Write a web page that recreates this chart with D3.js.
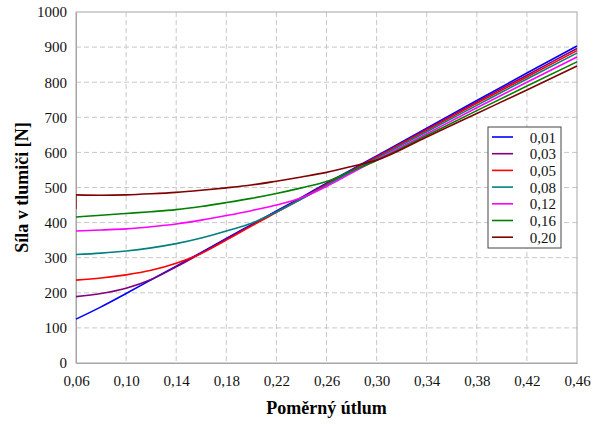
<!DOCTYPE html>
<html lang="cs">
<head>
<meta charset="UTF-8">
<script src="https://cdn.jsdelivr.net/npm/d3@7"></script>
<style>
body { margin:0; background:#fff; }
.grid line { stroke:#c8c8c8; stroke-dasharray:5,3; }
</style>
<title>Síla v tlumiči</title>
</head>
<body>
<script>
// x values (poměrný útlum)
var xs = [0.06, 0.08, 0.10, 0.12, 0.14, 0.16, 0.18, 0.20, 0.22, 0.24, 0.26, 0.28, 0.30, 0.34, 0.38, 0.42, 0.46];

var names = ["0,01", "0,03", "0,05", "0,08", "0,12", "0,16", "0,20"];
var colors = ["#0000ff", "#800080", "#ff0000", "#008080", "#ff00ff", "#008000", "#800000"];

var s001 = [125, 160, 198, 237, 276, 315, 355, 394, 433, 472, 512, 551, 590, 669, 748, 826, 903];
var s003 = [189, 198, 213, 238, 274, 313, 353, 392, 431, 470, 510, 549, 588, 666, 744, 820, 896];
var s005 = [236, 242, 251, 264, 284, 312, 350, 390, 429, 468, 508, 547, 586, 663, 740, 815, 890];
var s008 = [309, 313, 319, 328, 340, 356, 376, 398, 430, 467, 506, 545, 583, 659, 734, 809, 883];
var s012 = [376, 379, 382, 388, 396, 407, 420, 434, 450, 471, 503, 541, 579, 653, 727, 800, 872];
var s016 = [416, 421, 426, 431, 437, 446, 457, 469, 483, 499, 517, 547, 577, 648, 719, 789, 858];
var s020 = [479, 478, 479, 482, 486, 492, 499, 507, 518, 530, 543, 560, 578, 644, 711, 778, 846];
var series = [s001, s003, s005, s008, s012, s016, s020];

var xTicks = [0.06, 0.10, 0.14, 0.18, 0.22, 0.26, 0.30, 0.34, 0.38, 0.42, 0.46];
var yTicks = [0, 100, 200, 300, 400, 500, 600, 700, 800, 900, 1000];

var FONT = "Liberation Serif";

var W = 598, H = 424;
var margin = {top: 12, right: 21, bottom: 61, left: 76},
    width = W - margin.left - margin.right,
    height = H - margin.top - margin.bottom;

var svg = d3.select("body").append("svg")
    .attr("width", W)
    .attr("height", H)
    .style("font-family", FONT);

var g = svg.append("g")
    .attr("transform", "translate(" + margin.left + "," + margin.top + ")");

var x = d3.scaleLinear().domain([0.06, 0.46]).range([0, width]);
var y = d3.scaleLinear().domain([0, 1000]).range([height, 0]);

// grid
var grid = g.append("g").attr("class", "grid");
grid.selectAll(".gx").data(xTicks.slice(1, -1)).enter().append("line")
    .attr("x1", function(d) { return x(d); })
    .attr("x2", function(d) { return x(d); })
    .attr("y1", 0).attr("y2", height);
grid.selectAll(".gy").data(yTicks.slice(1, -1)).enter().append("line")
    .attr("x1", 0).attr("x2", width)
    .attr("y1", function(d) { return y(d); })
    .attr("y2", function(d) { return y(d); });

// frame
g.append("rect")
    .attr("width", width).attr("height", height)
    .attr("fill", "none").attr("stroke", "#a6a6a6");

// axes
var fmt = function(d) { return d3.format(".2f")(d).replace(".", ","); };
var xAxis = g.append("g")
    .attr("transform", "translate(0," + height + ")")
    .call(d3.axisBottom(x).tickValues(xTicks).tickFormat(fmt).tickSize(0).tickPadding(12));
var yAxis = g.append("g")
    .call(d3.axisLeft(y).tickValues(yTicks).tickFormat(d3.format("d")).tickSize(0).tickPadding(9));
[xAxis, yAxis].forEach(function(a) {
    a.attr("font-family", FONT).attr("font-size", 15);
    a.select(".domain").attr("stroke", "#a6a6a6");
    a.selectAll("text")
        .style("font-family", FONT)
        .style("font-size", "15px")
        .attr("fill", "#111");
});

// lines
var line = d3.line()
    .x(function(d, i) { return x(xs[i]); })
    .y(function(d) { return y(d); })
    .curve(d3.curveMonotoneX);

g.selectAll(".series").data(series).enter().append("path")
    .attr("class", "series")
    .attr("d", line)
    .attr("fill", "none")
    .attr("stroke", function(d, i) { return colors[i]; })
    .attr("stroke-width", 1.6);

// brown starts with a short drop at the left edge
g.append("line")
    .attr("x1", x(xs[0]) + 0.5).attr("x2", x(xs[0]) + 0.5)
    .attr("y1", y(s020[0])).attr("y2", y(s020[0] - 40))
    .attr("stroke", colors[6]).attr("stroke-width", 1).attr("opacity", 0.6);

// legend
var lg = svg.append("g").attr("transform", "translate(488,127)");
lg.append("rect")
    .attr("width", 73).attr("height", 121)
    .attr("fill", "#fff").attr("stroke", "#444");
var items = lg.selectAll(".item").data(names).enter().append("g")
    .attr("transform", function(d, i) { return "translate(0," + (10 + i * 16.7) + ")"; });
items.append("line")
    .attr("x1", 4).attr("x2", 25)
    .attr("stroke", function(d, i) { return colors[i]; })
    .attr("stroke-width", 1.6);
items.append("text")
    .attr("x", 68).attr("y", 5.5)
    .attr("text-anchor", "end")
    .style("font-family", FONT)
    .style("font-size", "15px")
    .attr("fill", "#111")
    .text(function(d) { return d; });

// titles
svg.append("text")
    .attr("x", margin.left + width / 2)
    .attr("y", 414)
    .attr("text-anchor", "middle")
    .style("font-family", FONT)
    .style("font-size", "18px")
    .style("font-weight", "bold")
    .text("Poměrný útlum");

svg.append("text")
    .attr("transform", "translate(28," + (margin.top + height / 2) + ") rotate(-90)")
    .attr("text-anchor", "middle")
    .style("font-family", FONT)
    .style("font-size", "18px")
    .style("font-weight", "bold")
    .text("Síla v tlumiči [N]");
</script>
</body>
</html>
